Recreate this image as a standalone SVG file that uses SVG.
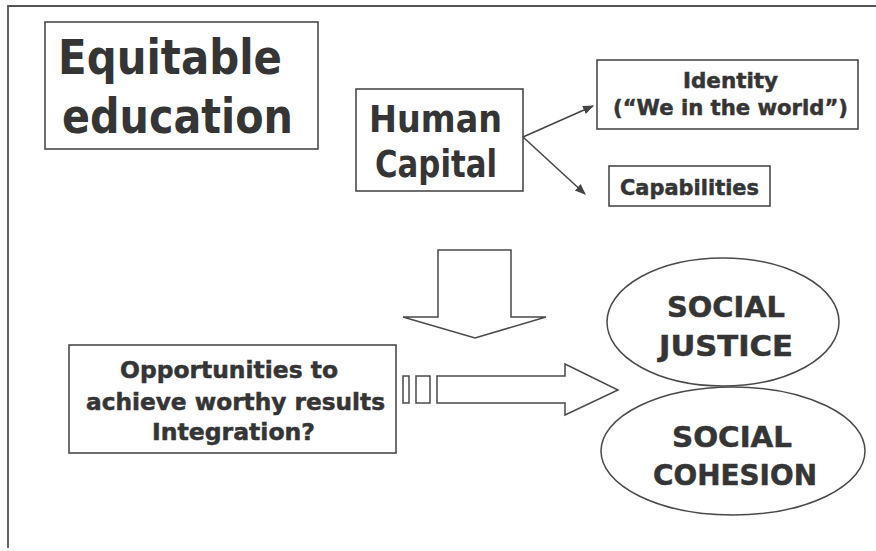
<svg xmlns="http://www.w3.org/2000/svg" width="876" height="551" viewBox="0 0 876 551">
<style>
  .box { fill: #fff; stroke: #4a4a4a; stroke-width: 1.6; }
  .shape { fill: #fff; stroke: #4a4a4a; stroke-width: 1.5; stroke-linejoin: miter; }
  .frame { fill: none; stroke: #555; stroke-width: 1.8; }
  .t { font-family: "DejaVu Sans", "Liberation Sans", sans-serif; font-weight: bold; fill: #353535; text-anchor: middle; }
  .s { stroke: #353535; stroke-width: 0.5; }
  .conn { stroke: #444; stroke-width: 1.5; fill: none; }
</style>
<defs>
  <marker id="ah" viewBox="0 0 10 10" refX="9" refY="5" markerWidth="11" markerHeight="11" orient="auto" markerUnits="userSpaceOnUse">
    <path d="M0,1 L10,5 L0,9 Z" fill="#444"/>
  </marker>
</defs>
<rect width="876" height="551" fill="#fff"/>
<g id="frame">
  <path class="frame" d="M8,548 L8,6 L876,6"/>
</g>
<g id="equitable-education">
  <rect class="box" x="45" y="22" width="273" height="127"/>
  <text class="t" x="170" y="74" font-size="48" textLength="224" lengthAdjust="spacingAndGlyphs">Equitable</text>
  <text class="t" x="177.5" y="133" font-size="48" textLength="231" lengthAdjust="spacingAndGlyphs">education</text>
</g>
<g id="human-capital">
  <rect class="box" x="356" y="89" width="167" height="102"/>
  <text class="t" x="435.5" y="132" font-size="37" textLength="133" lengthAdjust="spacingAndGlyphs">Human</text>
  <text class="t" x="436" y="177" font-size="37" textLength="122" lengthAdjust="spacingAndGlyphs">Capital</text>
</g>
<g id="identity">
  <rect class="box" x="597" y="60" width="261" height="69"/>
  <text class="t s" x="730.5" y="88" font-size="21" textLength="95" lengthAdjust="spacingAndGlyphs">Identity</text>
  <text class="t s" x="730.5" y="115" font-size="21" textLength="235" lengthAdjust="spacingAndGlyphs">(“We in the world”)</text>
</g>
<g id="capabilities">
  <rect class="box" x="609" y="166" width="161" height="40"/>
  <text class="t s" x="689.5" y="195" font-size="21" textLength="139" lengthAdjust="spacingAndGlyphs">Capabilities</text>
</g>
<g id="opportunities">
  <rect class="box" x="69" y="345" width="327" height="108"/>
  <text class="t s" x="229" y="378" font-size="23" textLength="218" lengthAdjust="spacingAndGlyphs">Opportunities to</text>
  <text class="t s" x="235.5" y="410" font-size="23" textLength="299" lengthAdjust="spacingAndGlyphs">achieve worthy results</text>
  <text class="t s" x="233.5" y="440" font-size="23" textLength="163" lengthAdjust="spacingAndGlyphs">Integration?</text>
</g>
<g id="social-cohesion">
  <ellipse class="shape" cx="733" cy="451" rx="132" ry="64"/>
  <text class="t s" x="732" y="447" font-size="28" textLength="120" lengthAdjust="spacingAndGlyphs">SOCIAL</text>
  <text class="t s" x="735" y="485" font-size="28" textLength="164" lengthAdjust="spacingAndGlyphs">COHESION</text>
</g>
<g id="social-justice">
  <ellipse class="shape" cx="723" cy="322" rx="116" ry="64"/>
  <text class="t s" x="726" y="317" font-size="28" textLength="118" lengthAdjust="spacingAndGlyphs">SOCIAL</text>
  <text class="t s" x="726" y="356" font-size="28" textLength="134" lengthAdjust="spacingAndGlyphs">JUSTICE</text>
</g>
<g id="connectors">
  <line class="conn" x1="523" y1="137" x2="593" y2="106" marker-end="url(#ah)"/>
  <line class="conn" x1="523" y1="137" x2="585" y2="194" marker-end="url(#ah)"/>
  <path class="shape" d="M438,250 L511,250 L511,317 L546,317 L475,338 L403,317 L438,317 Z"/>
  <path class="shape" d="M437,376 L565,376 L565,364 L618,390 L565,415 L565,403 L437,403 Z"/>
  <rect class="shape" x="403" y="376" width="6" height="27"/>
  <rect class="shape" x="416" y="376" width="14" height="27"/>
</g>
</svg>
